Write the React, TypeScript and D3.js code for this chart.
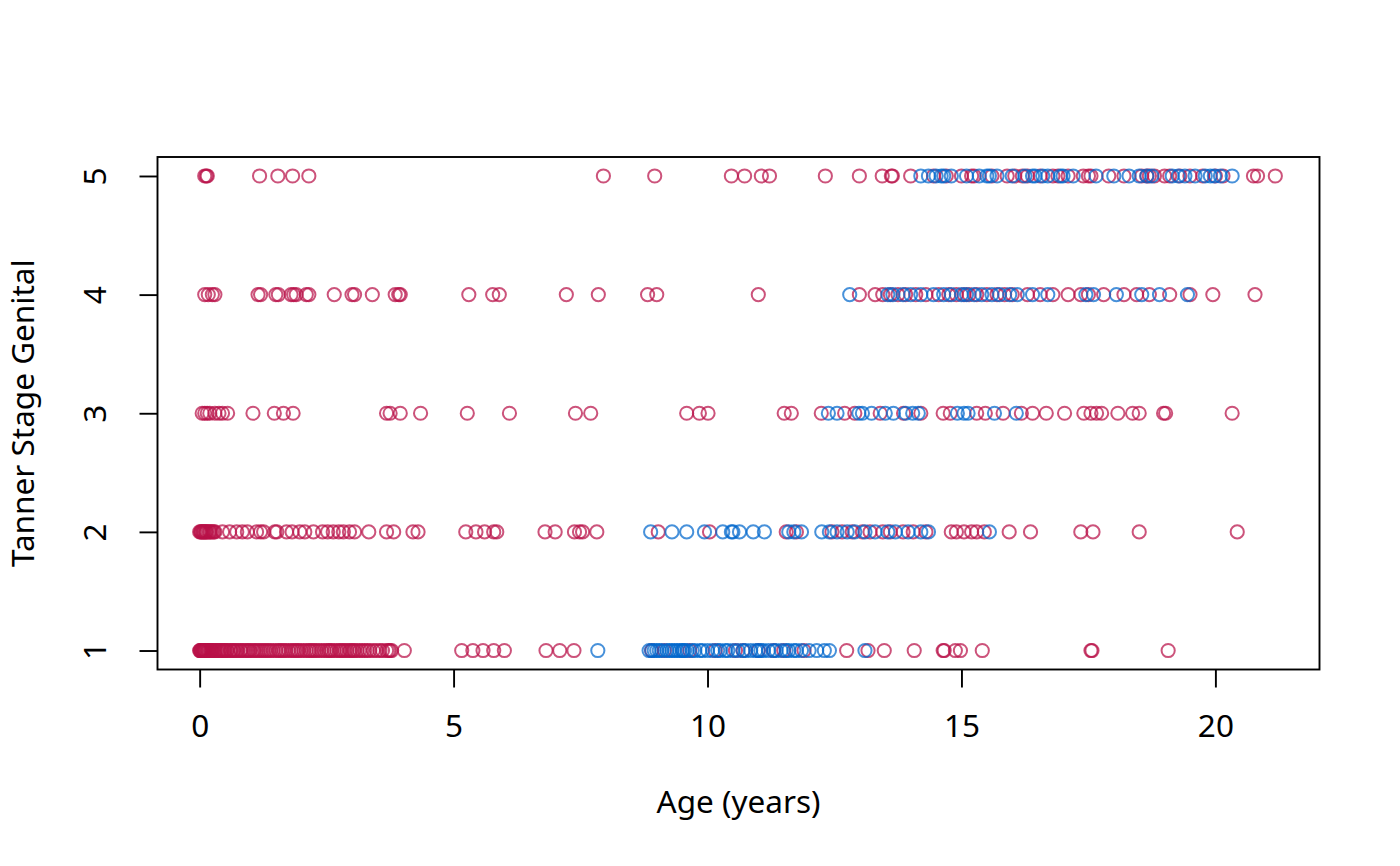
import React, { useRef, useEffect } from "react";
import * as d3 from "d3";

// ages (years) by Tanner stage, two groups
const red1 = [
  0.0, 0.01, 0.02, 0.03, 0.04, 0.05, 0.06, 0.07, 0.08, 0.09, 0.1, 0.11, 0.12, 0.14, 0.15,
  0.17, 0.18, 0.2, 0.22, 0.23, 0.25, 0.27, 0.3, 0.32, 0.35, 0.38, 0.4, 0.43, 0.45, 0.48,
  0.5, 0.53, 0.55, 0.6, 0.62, 0.66, 0.68, 0.72, 0.75, 0.8, 0.82, 0.86, 0.9, 0.94, 0.97,
  1.0, 1.05, 1.08, 1.12, 1.16, 1.2, 1.24, 1.28, 1.32, 1.36, 1.4, 1.45, 1.5, 1.55, 1.58,
  1.62, 1.66, 1.7, 1.75, 1.8, 1.84, 1.88, 1.92, 1.95, 2.0, 2.05, 2.1, 2.15, 2.18, 2.22,
  2.26, 2.3, 2.35, 2.4, 2.45, 2.5, 2.54, 2.57, 2.6, 2.65, 2.7, 2.75, 2.78, 2.82, 2.86,
  2.9, 2.95, 2.98, 3.02, 3.05, 3.1, 3.15, 3.2, 3.25, 3.3, 3.35, 3.42, 3.48, 3.55, 3.6,
  3.68, 3.72, 3.75, 3.78, 4.03,
  5.16, 5.38, 5.58, 5.79, 6.0, 6.82, 7.09, 7.37,
  8.9, 9.15, 9.65, 10.15, 10.55, 10.7, 11.0, 11.3, 11.5, 11.9,
  12.74, 13.16, 13.48, 14.07, 14.64, 14.66, 14.88, 14.98, 15.41, 17.55, 17.57, 19.07,
];
const blue1 = [
  7.84, 8.85, 8.9, 8.95, 9.0, 9.05, 9.1, 9.2, 9.25, 9.3, 9.35, 9.4, 9.45, 9.5, 9.52, 9.55,
  9.6, 9.7, 9.75, 9.85, 9.9, 10.0, 10.1, 10.2, 10.25, 10.35, 10.4, 10.5, 10.6, 10.7,
  10.75, 10.85, 10.95, 11.0, 11.05, 11.1, 11.2, 11.3, 11.35, 11.45, 11.55, 11.6, 11.7,
  11.75, 11.85, 12.0, 12.15, 12.3, 12.4, 13.1,
];
const red2 = [
  0.0, 0.02, 0.03, 0.05, 0.07, 0.08, 0.1, 0.12, 0.13, 0.15, 0.18, 0.2, 0.22, 0.25, 0.28,
  0.3, 0.45, 0.59, 0.73, 0.84, 0.94, 1.12, 1.2, 1.26, 1.48, 1.52, 1.71, 1.82, 1.97, 2.07,
  2.24, 2.42, 2.52, 2.63, 2.74, 2.83, 2.95, 3.05, 3.33, 3.68, 3.82, 4.2, 4.3, 5.24, 5.44,
  5.61, 5.79, 5.85, 6.8, 7.0, 7.38, 7.48, 7.54, 7.82, 9.03, 10.04, 11.55, 11.75,
  12.45, 12.65, 12.85, 13.05, 13.2, 13.45, 13.6, 13.85, 14.05, 14.3, 14.8, 14.9, 15.05,
  15.2, 15.3, 15.45, 15.94, 16.36, 17.35, 17.59, 18.5, 20.43,
];
const blue2 = [
  8.88, 9.3, 9.59, 9.94, 10.3, 10.47, 10.5, 10.63, 10.9, 11.12, 11.6, 11.7, 11.85, 12.25,
  12.4, 12.55, 12.75, 12.9, 13.1, 13.3, 13.55, 13.7, 13.95, 14.2, 14.35, 15.55,
];
const red3 = [
  0.05, 0.1, 0.15, 0.2, 0.3, 0.38, 0.45, 0.55, 1.05, 1.47, 1.65, 1.84, 3.68, 3.75, 3.95,
  4.35, 5.27, 6.1, 7.4, 7.7, 9.59, 9.84, 10.01, 11.51, 11.65,
  12.24, 12.7, 12.9, 13.4, 13.86, 14.2, 14.64, 14.78, 15.3, 15.47, 15.82, 16.18, 16.4,
  16.67, 17.03, 17.41, 17.55, 17.66, 17.76, 18.08, 18.37, 18.5, 18.98, 19.02, 20.33,
];
const blue3 = [
  12.38, 12.55, 12.98, 13.05, 13.23, 13.5, 13.66, 13.9, 14.04, 14.15, 14.92, 15.05,
  15.13, 15.65, 16.08,
];
const red4 = [
  0.1, 0.17, 0.25, 0.3, 1.15, 1.2, 1.5, 1.55, 1.8, 1.85, 1.9, 2.1, 2.15, 2.65, 3.0, 3.05,
  3.4, 3.85, 3.92, 3.95, 5.3, 5.77, 5.9, 7.22, 7.85, 8.82, 9.0, 11.0,
  12.99, 13.3, 13.45, 13.6, 13.75, 13.9, 14.1, 14.3, 14.55, 14.75, 14.9, 15.05, 15.15,
  15.3, 15.5, 15.7, 15.85, 16.0, 16.3, 16.55, 16.8, 17.1, 17.35, 17.5, 17.8, 18.2, 18.45,
  18.7, 19.1, 19.5, 19.95, 20.78,
];
const blue4 = [
  12.8, 13.55, 13.65, 13.85, 14.0, 14.2, 14.45, 14.65, 14.8, 15.0, 15.1, 15.25, 15.4,
  15.6, 15.75, 15.95, 16.1, 16.4, 16.7, 17.45, 17.6, 18.05, 18.55, 18.9, 19.45,
];
const red5 = [
  0.1, 0.13, 0.15, 1.18, 1.54, 1.83, 2.15, 7.95, 8.96, 10.47, 10.73, 11.06, 11.22, 12.32,
  12.99, 13.44, 13.62, 13.64, 14.0, 14.45, 14.7, 15.0, 15.2, 15.25, 15.6, 15.9, 16.05,
  16.2, 16.3, 16.55, 16.8, 16.9, 17.1, 17.4, 17.5, 17.55, 17.9, 18.2, 18.55, 18.65, 18.7,
  18.8, 19.0, 19.1, 19.3, 19.5, 19.75, 20.0, 20.15, 20.75, 20.83, 21.18,
];
const blue5 = [
  14.2, 14.35, 14.5, 14.6, 14.65, 14.8, 15.1, 15.35, 15.5, 15.55, 15.7, 16.0, 16.25,
  16.4, 16.45, 16.6, 16.7, 16.95, 17.0, 17.2, 17.65, 18.0, 18.3, 18.5, 18.65, 18.75,
  19.15, 19.27, 19.4, 19.6, 19.8, 19.9, 19.98, 20.1, 20.33,
];

const xTicks = [0, 5, 10, 15, 20];
const yTicks = [1, 2, 3, 4, 5];
const xLabel = "Age (years)";
const yLabel = "Tanner Stage Genital";

const redColor = "rgba(184, 16, 72, 0.72)";
const blueColor = "rgba(0, 102, 204, 0.72)";

const App: React.FC = () => {
  const svgRef = useRef<SVGSVGElement>(null);

  useEffect(() => {
    if (!svgRef.current) return;
    const svg = d3.select(svgRef.current);
    svg.selectAll("*").remove();

    const font = "'Noto Sans', sans-serif";
    const fs = 31.5;
    const left = 157.5, right = 1319.5, top = 157, bottom = 669.5;

    const x = d3.scaleLinear().domain([-0.83, 22.05]).range([left, right]);
    const y = d3.scaleLinear().domain([0.84, 5.16]).range([bottom, top]);

    const points: { age: number; stage: number; color: string }[] = [];
    const add = (arr: number[], stage: number, color: string) =>
      arr.forEach((age) => points.push({ age, stage, color }));
    add(red1, 1, redColor);
    add(red2, 2, redColor);
    add(red3, 3, redColor);
    add(red4, 4, redColor);
    add(red5, 5, redColor);
    add(blue1, 1, blueColor);
    add(blue2, 2, blueColor);
    add(blue3, 3, blueColor);
    add(blue4, 4, blueColor);
    add(blue5, 5, blueColor);

    svg
      .append("g")
      .selectAll("circle")
      .data(points)
      .join("circle")
      .attr("cx", (d) => x(d.age))
      .attr("cy", (d) => y(d.stage))
      .attr("r", 6.6)
      .attr("fill", "none")
      .attr("stroke", (d) => d.color)
      .attr("stroke-width", 2);

    // box
    svg
      .append("rect")
      .attr("x", left)
      .attr("y", top)
      .attr("width", right - left)
      .attr("height", bottom - top)
      .attr("fill", "none")
      .attr("stroke", "black")
      .attr("stroke-width", 1.9);

    // x axis
    const xAxis = svg
      .append("g")
      .attr("transform", `translate(0,${bottom})`)
      .call(d3.axisBottom(x).tickValues(xTicks).tickSize(18).tickSizeOuter(0).tickFormat(d3.format("d")));
    xAxis.select(".domain").remove();
    xAxis.selectAll("line").attr("stroke", "black").attr("stroke-width", 1.9);
    xAxis
      .selectAll("text")
      .attr("y", 67)
      .attr("dy", 0)
      .attr("fill", "black")
      .style("font-family", font)
      .style("font-size", `${fs}px`);

    // y axis
    const yAxis = svg
      .append("g")
      .attr("transform", `translate(${left},0)`)
      .call(d3.axisLeft(y).tickValues(yTicks).tickSize(18).tickSizeOuter(0).tickFormat(d3.format("d")));
    yAxis.select(".domain").remove();
    yAxis.selectAll("line").attr("stroke", "black").attr("stroke-width", 1.9);
    yAxis
      .selectAll("text")
      .attr("transform", "rotate(-90)")
      .attr("x", 0)
      .attr("y", -51.5)
      .attr("dy", 0)
      .attr("text-anchor", "middle")
      .attr("fill", "black")
      .style("font-family", font)
      .style("font-size", `${fs}px`);

    svg
      .append("text")
      .attr("x", (left + right) / 2)
      .attr("y", 813)
      .attr("text-anchor", "middle")
      .style("font-family", font)
      .style("font-size", `${fs}px`)
      .text(xLabel);

    svg
      .append("text")
      .attr("transform", `translate(34,${(top + bottom) / 2}) rotate(-90)`)
      .attr("text-anchor", "middle")
      .style("font-family", font)
      .style("font-size", `${fs}px`)
      .text(yLabel);
  }, []);

  return (
    <svg
      ref={svgRef}
      width={1400}
      height={866}
      style={{ position: "absolute", left: 0, top: 0, background: "white" }}
    />
  );
};

export default App;
